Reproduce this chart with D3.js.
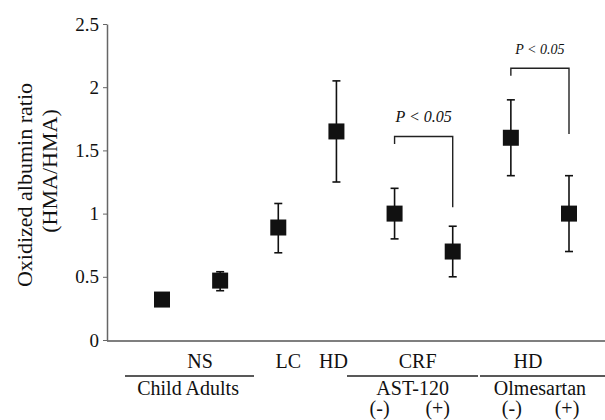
<!DOCTYPE html>
<html><head><meta charset="utf-8">
<script src="https://cdn.jsdelivr.net/npm/d3@7"></script>
<style>body{margin:0;background:#fff}svg{display:block}text{font-family:"Liberation Serif","Times New Roman",serif;fill:#111}</style>
</head><body><svg id="c" width="605" height="420"></svg>
<script>
const categories = ["Child","Adults","LC","HD","CRF(-)","CRF(+)","Olm(-)","Olm(+)"];
const means = [0.32, 0.47, 0.89, 1.65, 1.00, 0.70, 1.60, 1.00];
const upper = [0.32, 0.54, 1.08, 2.05, 1.20, 0.90, 1.90, 1.30];
const lower = [0.32, 0.39, 0.69, 1.25, 0.80, 0.50, 1.30, 0.70];
const yTicks = [0, 0.5, 1, 1.5, 2, 2.5];
const yTickLabels = ["0","0.5","1","1.5","2","2.5"];
const comparisons = [
  {from:"CRF(-)", to:"CRF(+)", top:1.61, leftEnd:1.55, rightEnd:1.05, label:"P < 0.05"},
  {from:"Olm(-)", to:"Olm(+)", top:2.15, leftEnd:2.09, rightEnd:1.63, label:"P < 0.05"}
];

const svg = d3.select("#c");
const y = d3.scaleLinear().domain([0,2.5]).range([340,24]);
const x = d3.scalePoint().domain(categories).range([162,569]);

// y axis
const yAxis = d3.axisLeft(y).tickValues(yTicks).tickSize(4).tickSizeOuter(0)
  .tickFormat((d,i)=>yTickLabels[i]);
const ga = svg.append("g").attr("transform","translate(107,0)").call(yAxis);
ga.select(".domain").attr("stroke","#666").attr("stroke-width",1.5);
ga.selectAll(".tick line").attr("stroke","#666");
ga.selectAll(".tick text").attr("font-size",19).attr("x",-8)
  .attr("font-family","Liberation Serif, serif").attr("fill","#111");
// x axis line
svg.append("line").attr("x1",107).attr("x2",605).attr("y1",y(0)+1).attr("y2",y(0)+1)
  .attr("stroke","#555").attr("stroke-width",1.6);

// y label
svg.append("text").attr("transform","translate(32,185) rotate(-90)").attr("text-anchor","middle")
  .attr("font-size",22).text("Oxidized albumin ratio");
svg.append("text").attr("transform","translate(57,171) rotate(-90)").attr("text-anchor","middle")
  .attr("font-size",22).text("(HMA/HMA)");

// error bars
const eb = svg.append("g").attr("stroke","#111").attr("stroke-width",1.6);
categories.forEach((c,i)=>{
  if (upper[i]===lower[i]) return;
  const cx = x(c);
  eb.append("line").attr("x1",cx).attr("x2",cx).attr("y1",y(upper[i])).attr("y2",y(lower[i]));
  eb.append("line").attr("x1",cx-4).attr("x2",cx+4).attr("y1",y(upper[i])).attr("y2",y(upper[i]));
  eb.append("line").attr("x1",cx-4).attr("x2",cx+4).attr("y1",y(lower[i])).attr("y2",y(lower[i]));
});
// markers
const s = 16;
svg.append("g").selectAll("rect").data(categories).join("rect")
  .attr("x",d=>x(d)-s/2).attr("y",(d,i)=>y(means[i])-s/2).attr("width",s).attr("height",s)
  .attr("fill","#111");

// comparisons
comparisons.forEach((cmp,k)=>{
  const x1 = x(cmp.from), x2 = x(cmp.to);
  svg.append("path").attr("fill","none").attr("stroke","#222").attr("stroke-width",1.4)
    .attr("d",`M${x1},${y(cmp.leftEnd)}V${y(cmp.top)}H${x2}V${y(cmp.rightEnd)}`);
  svg.append("text").attr("x",(x1+x2)/2).attr("y",y(cmp.top)-14).attr("text-anchor","middle")
    .attr("font-style","italic").attr("font-size",k===0?16:14).text(cmp.label);
});

// bottom labels
const fs = 20;
function lab(t, xx, yy){ svg.append("text").attr("x",xx).attr("y",yy).attr("text-anchor","middle").attr("font-size",fs).text(t); }
function rule(a,b,yy){ svg.append("line").attr("x1",a).attr("x2",b).attr("y1",yy).attr("y2",yy).attr("stroke","#222").attr("stroke-width",1.4); }
const mid = (a,b)=>(x(a)+x(b))/2;
lab("NS",mid("Child","Adults")+9,368);
rule(125,254,376);
lab("Child Adults",mid("Child","Adults")-3,395);
lab("LC",x("LC")+10,368);
lab("HD",x("HD")-3,368);
lab("CRF",mid("CRF(-)","CRF(+)")-6,368);
rule(347,478,376);
lab("AST-120",mid("CRF(-)","CRF(+)")-11,395);
lab("HD",mid("Olm(-)","Olm(+)")-12,368);
rule(480,605,376);
lab("Olmesartan",mid("Olm(-)","Olm(+)"),395);
lab("(-)",x("CRF(-)")-15,415);
lab("(+)",x("CRF(+)")-15,415);
lab("(-)",x("Olm(-)")+1,415);
lab("(+)",x("Olm(+)")-2,415);
</script></body></html>
